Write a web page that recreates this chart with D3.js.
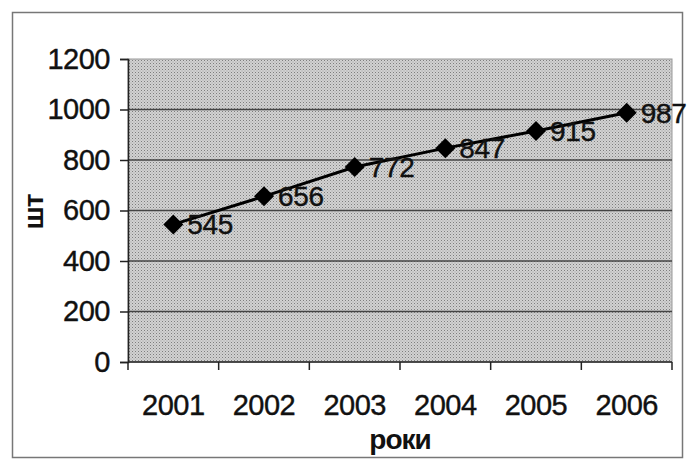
<!DOCTYPE html>
<html lang="uk">
<head>
<meta charset="UTF-8">
<title>шт по роках</title>
<script src="https://d3js.org/d3.v7.min.js"></script>
<style>
    body { margin: 0; background: #fff; }
    text { font-family: "Liberation Sans", Arial, sans-serif; fill: #111; stroke: #111; stroke-width: 0.4px; }
    .tick-label { font-size: 29px; letter-spacing: -0.5px; }
    .value-label { font-size: 28px; letter-spacing: -0.3px; }
    .axis-title { font-size: 28px; font-weight: bold; letter-spacing: -1px; stroke-width: 0; }
</style>
</head>
<body>
<svg width="687" height="461"></svg>
<script>
    const years = ["2001", "2002", "2003", "2004", "2005", "2006"];
    const values = [545, 656, 772, 847, 915, 987];
    const yTicks = [0, 200, 400, 600, 800, 1000, 1200];

    const width = 687, height = 461;
    const margin = { top: 59, right: 15, bottom: 99, left: 128 };

    const svg = d3.select("svg");

    // dotted plot background
    const defs = svg.append("defs");
    const pat = defs.append("pattern")
        .attr("id", "dots")
        .attr("width", 3).attr("height", 3)
        .attr("patternUnits", "userSpaceOnUse");
    pat.append("rect").attr("width", 3).attr("height", 3).attr("fill", "#d2d2d2");
    pat.append("rect").attr("width", 1).attr("height", 1).attr("fill", "#7e7e7e");
    pat.append("rect").attr("x", 1.5).attr("y", 1.5).attr("width", 1).attr("height", 1).attr("fill", "#a0a0a0");

    // outer frame
    svg.append("rect")
        .attr("x", 12.5).attr("y", 12.5)
        .attr("width", 670).attr("height", 445)
        .attr("fill", "none")
        .attr("stroke", "#777")
        .attr("stroke-width", 1.5);

    const x = d3.scaleBand()
        .domain(years)
        .range([margin.left, width - margin.right]);

    const y = d3.scaleLinear()
        .domain([0, 1200])
        .range([height - margin.bottom, margin.top]);

    svg.append("rect")
        .attr("x", margin.left)
        .attr("y", margin.top)
        .attr("width", width - margin.right - margin.left)
        .attr("height", height - margin.bottom - margin.top)
        .attr("fill", "url(#dots)")
        .attr("stroke", "#999")
        .attr("stroke-width", 1);

    // gridlines
    svg.append("g")
        .selectAll("line")
        .data(yTicks.filter(d => d > 0 && d < 1200))
        .join("line")
        .attr("x1", margin.left)
        .attr("x2", width - margin.right)
        .attr("y1", d => y(d))
        .attr("y2", d => y(d))
        .attr("stroke", "#444")
        .attr("stroke-width", 1.5);

    // y axis
    const yAxis = svg.append("g")
        .attr("transform", `translate(${margin.left},0)`)
        .call(d3.axisLeft(y).tickValues(yTicks).tickFormat(d3.format("d")).tickSize(8).tickPadding(10));
    yAxis.attr("font-size", null).attr("font-family", null);
    yAxis.select(".domain").attr("stroke", "#222").attr("stroke-width", 1.5);
    yAxis.selectAll(".tick line").attr("stroke", "#222").attr("stroke-width", 1.5);
    yAxis.selectAll(".tick text").attr("class", "tick-label").attr("fill", null);

    // x axis, ticks between categories
    const xAxis = svg.append("g")
        .attr("transform", `translate(0,${height - margin.bottom})`);
    xAxis.append("line")
        .attr("x1", margin.left).attr("x2", width - margin.right)
        .attr("stroke", "#222").attr("stroke-width", 1.5);
    xAxis.selectAll("line.tk")
        .data(years.concat(["end"]))
        .join("line")
        .attr("class", "tk")
        .attr("x1", (d, i) => margin.left + i * x.bandwidth())
        .attr("x2", (d, i) => margin.left + i * x.bandwidth())
        .attr("y1", 0).attr("y2", 8)
        .attr("stroke", "#222").attr("stroke-width", 1.5);
    xAxis.selectAll("text")
        .data(years)
        .join("text")
        .attr("class", "tick-label")
        .attr("x", d => x(d) + x.bandwidth() / 2)
        .attr("y", 53)
        .attr("text-anchor", "middle")
        .text(d => d);

    // line and markers
    const pts = years.map((d, i) => [x(d) + x.bandwidth() / 2, y(values[i])]);
    svg.append("path")
        .datum(pts)
        .attr("d", d3.line())
        .attr("fill", "none")
        .attr("stroke", "#000")
        .attr("stroke-width", 3);

    svg.append("g")
        .selectAll("path")
        .data(pts)
        .join("path")
        .attr("transform", d => `translate(${d[0]},${d[1]})`)
        .attr("d", "M0,-10L10,0L0,10L-10,0Z")
        .attr("fill", "#000");

    svg.append("g")
        .selectAll("text")
        .data(values)
        .join("text")
        .attr("class", "value-label")
        .attr("x", (d, i) => pts[i][0] + 14)
        .attr("y", (d, i) => pts[i][1] + 10)
        .text(d => d);

    // axis titles
    svg.append("text")
        .attr("class", "axis-title")
        .attr("transform", "translate(43,212) rotate(-90)")
        .attr("text-anchor", "middle")
        .text("шт");

    svg.append("text")
        .attr("class", "axis-title")
        .attr("x", (margin.left + width - margin.right) / 2)
        .attr("y", 449)
        .attr("text-anchor", "middle")
        .text("роки");
</script>
</body>
</html>
